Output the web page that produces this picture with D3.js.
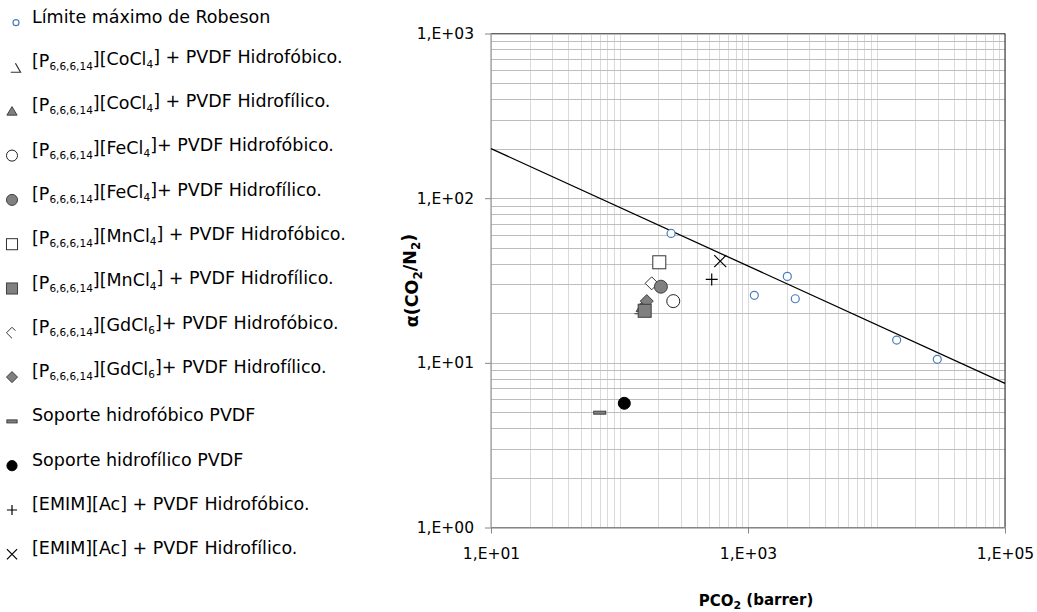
<!DOCTYPE html>
<html>
<head>
<meta charset="utf-8">
<script src="https://cdn.jsdelivr.net/npm/d3@7"></script>
<style>
  html, body { margin: 0; padding: 0; background: #fff; }
  svg { display: block; }
  text { font-family: "DejaVu Sans", sans-serif; fill: #000; }
</style>
</head>
<body>
<svg id="chart" width="1037" height="612"></svg>
<script>
// ---------------- DATA ----------------
const legendLabels = [
  "Límite máximo de Robeson",
  "[P_{6,6,6,14}][CoCl_{4}] + PVDF Hidrofóbico.",
  "[P_{6,6,6,14}][CoCl_{4}] + PVDF Hidrofílico.",
  "[P_{6,6,6,14}][FeCl_{4}]+ PVDF Hidrofóbico.",
  "[P_{6,6,6,14}][FeCl_{4}]+ PVDF Hidrofílico.",
  "[P_{6,6,6,14}][MnCl_{4}] + PVDF Hidrofóbico.",
  "[P_{6,6,6,14}][MnCl_{4}] + PVDF Hidrofílico.",
  "[P_{6,6,6,14}][GdCl_{6}]+ PVDF Hidrofóbico.",
  "[P_{6,6,6,14}][GdCl_{6}]+ PVDF Hidrofílico.",
  "Soporte hidrofóbico PVDF",
  "Soporte hidrofílico PVDF",
  "[EMIM][Ac] + PVDF Hidrofóbico.",
  "[EMIM][Ac] + PVDF Hidrofílico."
];
// Robeson reference points (PCO2 barrer, alpha CO2/N2)
const robesonP = [252, 1120, 2023, 2333, 14350, 29720];
const robesonAlpha = [61.1, 25.7, 33.5, 24.5, 13.75, 10.5];
// Robeson upper bound line end points
const boundP = [10, 100000];
const boundAlpha = [200, 7.5];
// Membranes (same order as legend entries 1..12)
const membraneP =     [143, 150, 262, 210, 204, 157, 178, 163, 70.2, 109, 522, 608];
const membraneAlpha = [21.3, 21.8, 23.7, 29.0, 40.8, 20.7, 30.4, 23.7, 4.98, 5.68, 32.1, 41.5];
// Axis ticks
const yTicks = [1, 10, 100, 1000];
const yTickLabels = ["1,E+00", "1,E+01", "1,E+02", "1,E+03"];
const xTicks = [10, 1000, 100000];
const xTickLabels = ["1,E+01", "1,E+03", "1,E+05"];
const xTitle = "PCO_{2} (barrer)";
const yTitle = "α(CO_{2}/N_{2})";

// ---------------- STYLES ----------------
const markerKinds = ["robeson", "triOpen", "triGray", "circOpen", "circGray", "sqOpen", "sqGray",
                     "diaOpen", "diaGray", "dash", "circBlack", "plus", "cross"];
const drawOrder = [1, 2, 7, 8, 5, 6, 3, 4, 9, 10, 11, 12];

const svg = d3.select("#chart");
const L = 491, R = 1005, T = 33.5, B = 527.5;
const x = d3.scaleLog().domain([10, 100000]).range([L, R]);
const y = d3.scaleLog().domain([1, 1000]).range([B, T]);

function marker(g, kind, cx, cy, s, inLegend) {
  const gray = "#808080", dark = "#404040";
  switch (kind) {
    case "robeson":
      g.append("circle").attr("cx", cx).attr("cy", cy).attr("r", 4 * s)
        .attr("fill", "#fff").attr("stroke", "#4a7ebb").attr("stroke-width", 1.2);
      break;
    case "triOpen":
      g.append("path").attr("d", `M${cx + 0.5 * s},${cy - 5.5 * s} L${cx + 6.5 * s},${cy + 5 * s} L${cx - 5 * s},${cy + 5 * s}`)
        .attr("fill", "none").attr("stroke", "#333").attr("stroke-width", 1.2);
      break;
    case "triGray":
      g.append("path").attr("d", `M${cx},${cy - 5.5 * s} L${cx + 6 * s},${cy + 4.5 * s} L${cx - 6 * s},${cy + 4.5 * s} Z`)
        .attr("fill", gray).attr("stroke", dark).attr("stroke-width", 1);
      break;
    case "circOpen":
      g.append("circle").attr("cx", cx).attr("cy", cy).attr("r", 6.5 * s)
        .attr("fill", "#fff").attr("stroke", "#222").attr("stroke-width", 1);
      break;
    case "circGray":
      g.append("circle").attr("cx", cx).attr("cy", cy).attr("r", 6.5 * s)
        .attr("fill", gray).attr("stroke", dark).attr("stroke-width", 1);
      break;
    case "circBlack":
      g.append("circle").attr("cx", cx).attr("cy", cy).attr("r", 6 * s)
        .attr("fill", "#000").attr("stroke", "#000").attr("stroke-width", 1);
      break;
    case "sqOpen":
      g.append("rect").attr("x", cx - 6.5 * s).attr("y", cy - 6.5 * s).attr("width", 13 * s).attr("height", 13 * s)
        .attr("fill", "#fff").attr("stroke", "#333").attr("stroke-width", 1);
      break;
    case "sqGray":
      g.append("rect").attr("x", cx - 6.5 * s).attr("y", cy - 6.5 * s).attr("width", 13 * s).attr("height", 13 * s)
        .attr("fill", gray).attr("stroke", dark).attr("stroke-width", 1);
      break;
    case "diaOpen":
      if (inLegend) {
        g.append("path").attr("d", `M${cx + 4 * s},${cy - 2.5 * s} L${cx},${cy - 6.5 * s} L${cx - 6.5 * s},${cy} L${cx},${cy + 6.5 * s}`)
          .attr("fill", "none").attr("stroke", "#333").attr("stroke-width", 1);
      } else {
        g.append("path").attr("d", `M${cx},${cy - 6.5 * s} L${cx + 6.5 * s},${cy} L${cx},${cy + 6.5 * s} L${cx - 6.5 * s},${cy} Z`)
          .attr("fill", "#fff").attr("stroke", "#333").attr("stroke-width", 1);
      }
      break;
    case "diaGray":
      g.append("path").attr("d", `M${cx},${cy - 6.5 * s} L${cx + 6.5 * s},${cy} L${cx},${cy + 6.5 * s} L${cx - 6.5 * s},${cy} Z`)
        .attr("fill", gray).attr("stroke", dark).attr("stroke-width", 1);
      break;
    case "dash":
      g.append("rect").attr("x", cx - 6 * s).attr("y", cy - 1.5).attr("width", 12 * s).attr("height", 3)
        .attr("fill", gray).attr("stroke", dark).attr("stroke-width", 1);
      break;
    case "plus":
      g.append("path").attr("d", `M${cx - 6 * s},${cy} H${cx + 6 * s} M${cx},${cy - 6 * s} V${cy + 6 * s}`)
        .attr("fill", "none").attr("stroke", "#000").attr("stroke-width", 1.2);
      break;
    case "cross":
      g.append("path").attr("d", `M${cx - 6 * s},${cy - 6 * s} L${cx + 6 * s},${cy + 6 * s} M${cx + 6 * s},${cy - 6 * s} L${cx - 6 * s},${cy + 6 * s}`)
        .attr("fill", "none").attr("stroke", "#000").attr("stroke-width", 1.2);
      break;
  }
}

// rich text with _{sub}
function richText(sel, str, subSize) {
  const parts = str.split(/(_\{[^}]*\})/).filter(p => p.length);
  let prevSub = false;
  parts.forEach(p => {
    if (p.startsWith("_{")) {
      sel.append("tspan").attr("font-size", subSize).attr("dy", prevSub ? 0 : "0.3em").text(p.slice(2, -1));
      prevSub = true;
    } else {
      sel.append("tspan").attr("dy", prevSub ? "-0.3em" : 0).text(p);
      prevSub = false;
    }
  });
}

// ---------------- GRID ----------------
const grid = svg.append("g");
const minorVals = (lo, hi) => {
  const out = [];
  for (let e = lo; e < hi; e++) for (let i = 1; i <= 9; i++) out.push(i * Math.pow(10, e));
  out.push(Math.pow(10, hi));
  return out;
};
grid.selectAll(".vg").data(minorVals(1, 5)).join("line")
  .attr("x1", d => Math.round(x(d)) + 0.5).attr("x2", d => Math.round(x(d)) + 0.5)
  .attr("y1", T).attr("y2", B).attr("stroke", "#dadada").attr("stroke-width", 1);
grid.selectAll(".hg").data(minorVals(0, 3)).join("line")
  .attr("y1", d => Math.round(y(d)) + 0.5).attr("y2", d => Math.round(y(d)) + 0.5)
  .attr("x1", L).attr("x2", R).attr("stroke", "#bdbdbd").attr("stroke-width", 1);

// frame
svg.append("line").attr("x1", L).attr("x2", R).attr("y1", T).attr("y2", T).attr("stroke", "#666");
svg.append("line").attr("x1", R).attr("x2", R).attr("y1", T).attr("y2", B).attr("stroke", "#222");

// ---------------- AXES ----------------
const yAxis = d3.axisLeft(y).tickValues(yTicks).tickSize(6).tickFormat((d, i) => yTickLabels[i]).tickPadding(11);
const gy = svg.append("g").attr("transform", `translate(${L},0)`).call(yAxis);
const xAxis = d3.axisBottom(x).tickValues(xTicks).tickSize(6).tickFormat((d, i) => xTickLabels[i]).tickPadding(14);
const gx = svg.append("g").attr("transform", `translate(0,${B})`).call(xAxis);
[gy, gx].forEach(g => {
  g.selectAll(".domain").attr("stroke", "#868686");
  g.selectAll(".tick line").attr("stroke", "#868686");
  g.selectAll(".tick text").attr("font-size", 15.5).attr("font-family", '"DejaVu Sans", sans-serif');
});
gy.select(".domain").attr("d", `M0,${T}V${B}`);
gx.select(".domain").attr("d", `M${L},0H${R}`);

// axis titles
const xt = svg.append("text").attr("x", 756).attr("y", 606).attr("text-anchor", "middle")
  .attr("font-weight", "bold").attr("font-size", 15);
richText(xt, xTitle, 11);
const yt = svg.append("text").attr("transform", `translate(418,${(T + B) / 2}) rotate(-90)`)
  .attr("text-anchor", "middle").attr("font-weight", "bold").attr("font-size", 17.5);
richText(yt, yTitle, 12);

// ---------------- PLOT ----------------
const plot = svg.append("g");
plot.append("path")
  .datum(boundP.map((p, i) => [p, boundAlpha[i]]))
  .attr("d", d3.line().x(d => x(d[0])).y(d => y(d[1])))
  .attr("fill", "none").attr("stroke", "#000").attr("stroke-width", 1.3);

robesonP.forEach((p, i) => marker(plot, "robeson", x(p), y(robesonAlpha[i]), 1, false));
drawOrder.forEach(k => {
  marker(plot, markerKinds[k], x(membraneP[k - 1]), y(membraneAlpha[k - 1]), 1, false);
});

// ---------------- LEGEND ----------------
const legend = svg.append("g");
legendLabels.forEach((lab, i) => {
  const cy = 22.7 + i * 44.3;
  const kind = markerKinds[i];
  const s = kind === "robeson" ? 0.75 : 0.85;
  const cx = kind === "robeson" ? 16 : (kind === "triOpen" ? 15 : 12);
  marker(legend, kind, cx, cy + (kind === "triOpen" ? 1 : 0), s, true);
  const t = legend.append("text").attr("x", 32).attr("y", cy).attr("dy", "0.35em").attr("font-size", 17.5);
  richText(t, lab, 10.5);
});
</script>
</body>
</html>
